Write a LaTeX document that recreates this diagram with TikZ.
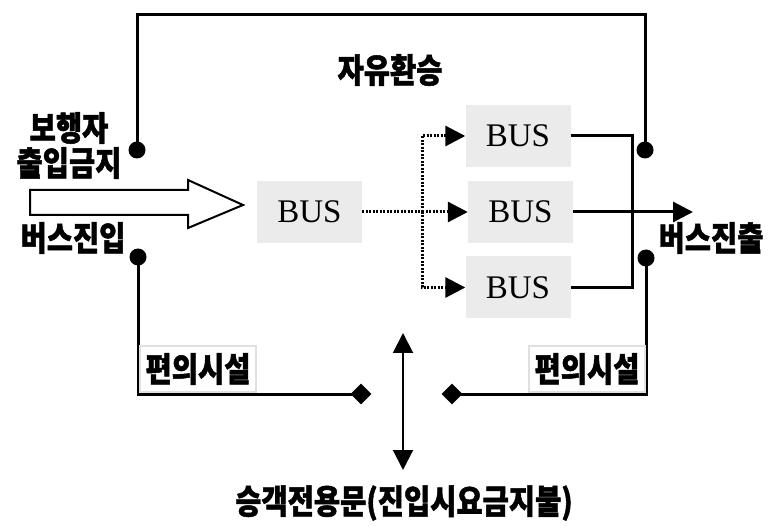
\documentclass[tikz,border=0pt]{standalone}
\usepackage{fontspec}
\usepackage{graphicx}
\setmainfont{Liberation Serif}
\newfontfamily\kr[BoldFeatures={FakeBold=1.5}]{Noto Sans CJK KR}
\newcommand{\kt}[1]{\scalebox{1}[1.18]{#1}}
\usetikzlibrary{arrows.meta,shapes.geometric}
\begin{document}
\begin{tikzpicture}[x=1pt,y=-1pt,
  bus/.style={fill=black!8, minimum width=105pt, minimum height=62pt, inner sep=0pt, font=\fontsize{33}{33}\selectfont},
  kor/.style={font=\kr\bfseries\fontsize{28.5}{30}\selectfont, inner sep=0pt},
  fac/.style={kor, draw=black!12, line width=2pt, fill=white, minimum width=116pt, minimum height=46pt},
  frame/.style={line width=3pt},
  dotline/.style={line width=3pt, dash pattern=on 2pt off 1.5pt},
  tri/.style={-{Triangle[length=20pt,width=20pt]}},
  ball/.style={circle, fill=black, minimum size=17pt, inner sep=0pt},
  dia/.style={diamond, fill=black, minimum width=21pt, minimum height=21pt, inner sep=0pt}]
\useasboundingbox (0,0) rectangle (768,526);

% BUS boxes
\node[bus] (b0) at (309.5,212) {BUS};
\node[bus] (b1) at (518,136) {BUS};
\node[bus] (b2) at (520.5,212) {BUS};
\node[bus] (b3) at (518,287.5) {BUS};

% dots and diamonds
\node[ball] (d1) at (137,150) {};
\node[ball] (d2) at (138,257) {};
\node[ball] (d3) at (645,150) {};
\node[ball] (d4) at (646,258) {};
\node[dia] (m1) at (361,394) {};
\node[dia] (m2) at (452,394) {};

\coordinate (tl) at (137,15);
\coordinate (tr) at (645,15);
\coordinate (j) at (422,212);
\coordinate (k) at (632,212);
\coordinate (exit) at (693,212);
\coordinate (ua) at (403,333);
\coordinate (da) at (403,470);

% frame lines
\draw[frame] (d1.center) -- (tl) -- (tr) -- (d3.center);
\draw[frame] (d2.center) |- (m1.center);
\draw[frame] (d4.center) |- (m2.center);

% dotted distribution
\draw[dotline] (b0.east) -- (j);
\draw[dotline,tri] (j) |- (b1.west);
\draw[dotline,tri] (j) -- (b2.west);
\draw[dotline,tri] (j) |- (b3.west);

% solid merge
\draw[frame] (b1.east) -| (k) |- (b3.east);
\draw[frame,tri] (b2.east) -- (exit);

% hollow entry arrow
\draw[line width=2pt, fill=white] (30,190) -- (188,190) -- (188,180) -- (243,205) -- (188,228) -- (188,215) -- (30,215) -- cycle;

% double arrow
\draw[line width=2pt,{Triangle[length=20pt,width=20pt]}-{Triangle[length=20pt,width=20pt]}] (ua) -- (da);

% labels
\node[kor] (t1) at (390,70) {\kt{자유환승}};
\node[kor] (t2) at (69,128) {\kt{보행자}};
\node[kor] (t3) at (69,163) {\kt{출입금지}};
\node[kor] (t4) at (73,238) {\kt{버스진입}};
\node[kor] (t5) at (711,238) {\kt{버스진출}};
\node[fac] (f1) at (198,369) {\kt{편의시설}};
\node[fac] (f2) at (587,369) {\kt{편의시설}};
\node[kor] (t6) at (404,503) {\kt{승객전용문(진입시요금지불)}};
\end{tikzpicture}
\end{document}
